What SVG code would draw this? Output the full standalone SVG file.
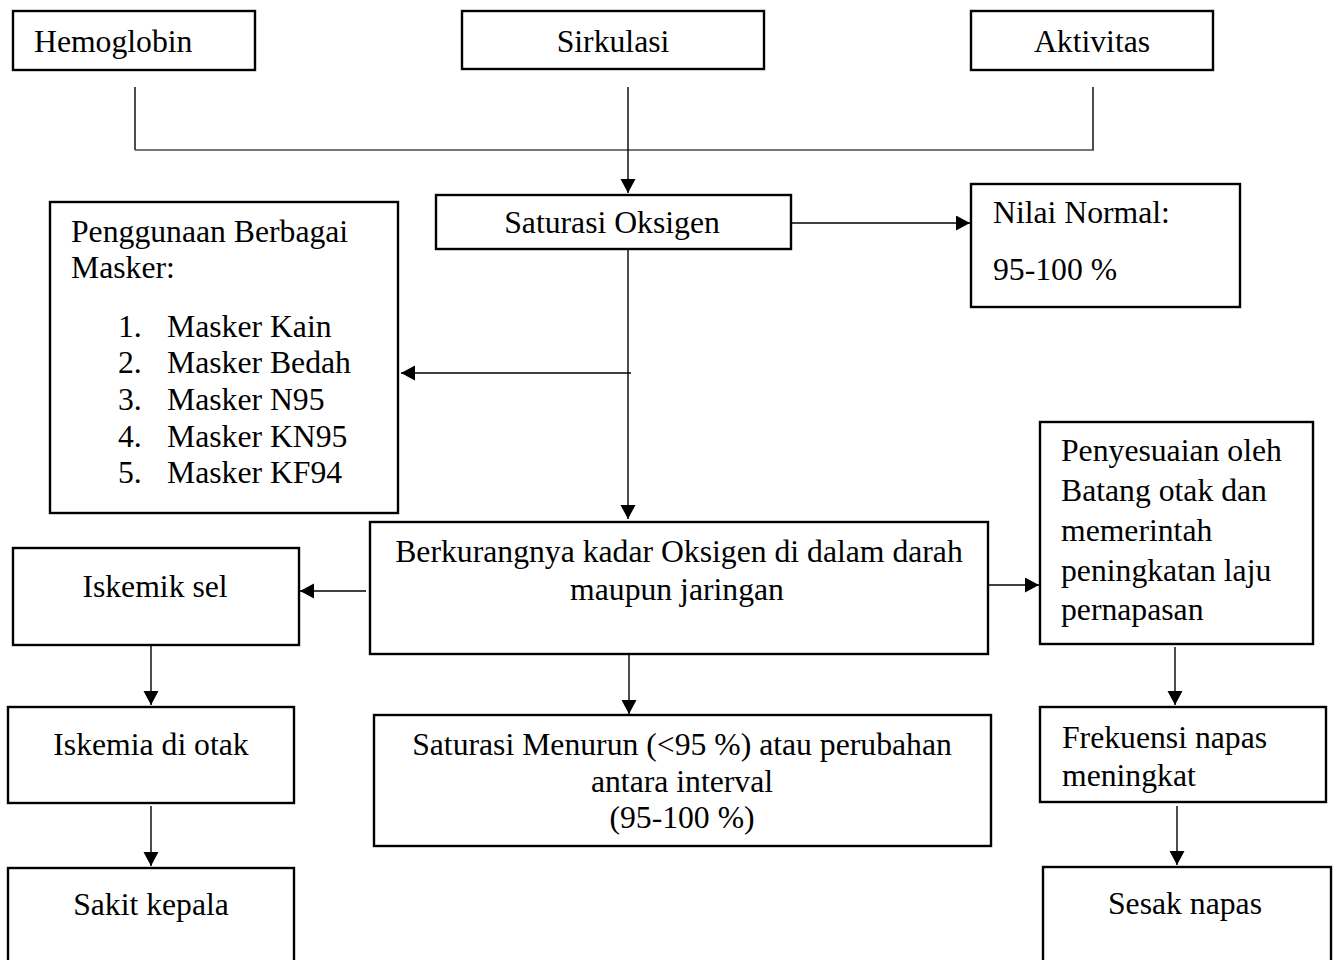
<svg xmlns="http://www.w3.org/2000/svg" width="1336" height="960" viewBox="0 0 1336 960">
<defs>
<marker id="arr" markerUnits="userSpaceOnUse" markerWidth="16" markerHeight="16" refX="14" refY="7.5" orient="auto">
<path d="M0,0 L14,7.5 L0,15 Z" fill="#000"/>
</marker>
<style>
.box{fill:#fff;stroke:#000;stroke-width:2.4}
.t{font-family:"Liberation Serif","Times New Roman",serif;font-size:31.7px;fill:#000}
.c{text-anchor:middle}
.ln{fill:none;stroke:#000;stroke-width:1.4}
.ar{fill:none;stroke:#000;stroke-width:1.4;marker-end:url(#arr)}
</style>
</defs>
<rect width="1336" height="960" fill="#fff"/>
<g id="connectors">
<path class="ln" d="M135,87 V150 M1093,87 V150"/>
<path d="M135,150 H1094" fill="none" stroke="#4a4a4a" stroke-width="1.6"/>
<path class="ar" d="M628,87 V193"/>
<path class="ar" d="M791,223 H970"/>
<path class="ln" d="M628,249 V373"/>
<path class="ar" d="M631,373 H401"/>
<path class="ar" d="M628,373 V519"/>
<path class="ar" d="M366,591 H300"/>
<path class="ar" d="M988,585 H1039"/>
<path class="ar" d="M629,654 V714"/>
<path class="ar" d="M151,646 V705"/>
<path class="ar" d="M151,806 V866"/>
<path class="ar" d="M1175,647 V705"/>
<path class="ar" d="M1177,806 V865"/>
</g>
<g id="hemoglobin"><rect class="box" x="13" y="11" width="242" height="59"/><text class="t" x="34" y="52">Hemoglobin</text></g>
<g id="sirkulasi"><rect class="box" x="462" y="11" width="302" height="58"/><text class="t c" x="613" y="52">Sirkulasi</text></g>
<g id="aktivitas"><rect class="box" x="971" y="11" width="242" height="59"/><text class="t c" x="1092" y="52">Aktivitas</text></g>
<g id="saturasi"><rect class="box" x="436" y="195" width="355" height="54"/><text class="t c" x="612" y="233">Saturasi Oksigen</text></g>
<g id="nilai"><rect class="box" x="971" y="184" width="269" height="123"/><text class="t" x="993" y="223">Nilai Normal:</text><text class="t" x="993" y="280">95-100 %</text></g>
<g id="masker"><rect class="box" x="50" y="202" width="348" height="311"/>
<text class="t" x="71" y="242">Penggunaan Berbagai</text>
<text class="t" x="71" y="278">Masker:</text>
<text class="t" x="118" y="337">1.</text><text class="t" x="167" y="337">Masker Kain</text>
<text class="t" x="118" y="373">2.</text><text class="t" x="167" y="373">Masker Bedah</text>
<text class="t" x="118" y="410">3.</text><text class="t" x="167" y="410">Masker N95</text>
<text class="t" x="118" y="447">4.</text><text class="t" x="167" y="447">Masker KN95</text>
<text class="t" x="118" y="483">5.</text><text class="t" x="167" y="483">Masker KF94</text>
</g>
<g id="berkurang"><rect class="box" x="370" y="522" width="618" height="132"/><text class="t c" x="679" y="562">Berkurangnya kadar Oksigen di dalam darah</text><text class="t c" x="677" y="600">maupun jaringan</text></g>
<g id="iskemik"><rect class="box" x="13" y="548" width="286" height="97"/><text class="t c" x="155" y="597">Iskemik sel</text></g>
<g id="penyesuaian"><rect class="box" x="1040" y="422" width="273" height="222"/>
<text class="t" x="1061" y="461">Penyesuaian oleh</text>
<text class="t" x="1061" y="501">Batang otak dan</text>
<text class="t" x="1061" y="541">memerintah</text>
<text class="t" x="1061" y="581">peningkatan laju</text>
<text class="t" x="1061" y="620">pernapasan</text>
</g>
<g id="iskemia"><rect class="box" x="8" y="707" width="286" height="96"/><text class="t c" x="151" y="755">Iskemia di otak</text></g>
<g id="menurun"><rect class="box" x="374" y="715" width="617" height="131"/>
<text class="t c" x="682" y="755">Saturasi Menurun (&lt;95 %) atau perubahan</text>
<text class="t c" x="682" y="792">antara interval</text>
<text class="t c" x="682" y="828">(95-100 %)</text>
</g>
<g id="frekuensi"><rect class="box" x="1040" y="707" width="286" height="95"/><text class="t" x="1062" y="748">Frekuensi napas</text><text class="t" x="1062" y="786">meningkat</text></g>
<g id="sakit"><rect class="box" x="8" y="868" width="286" height="110"/><text class="t c" x="151" y="915">Sakit kepala</text></g>
<g id="sesak"><rect class="box" x="1043" y="867" width="288" height="110"/><text class="t c" x="1185" y="914">Sesak napas</text></g>
</svg>
